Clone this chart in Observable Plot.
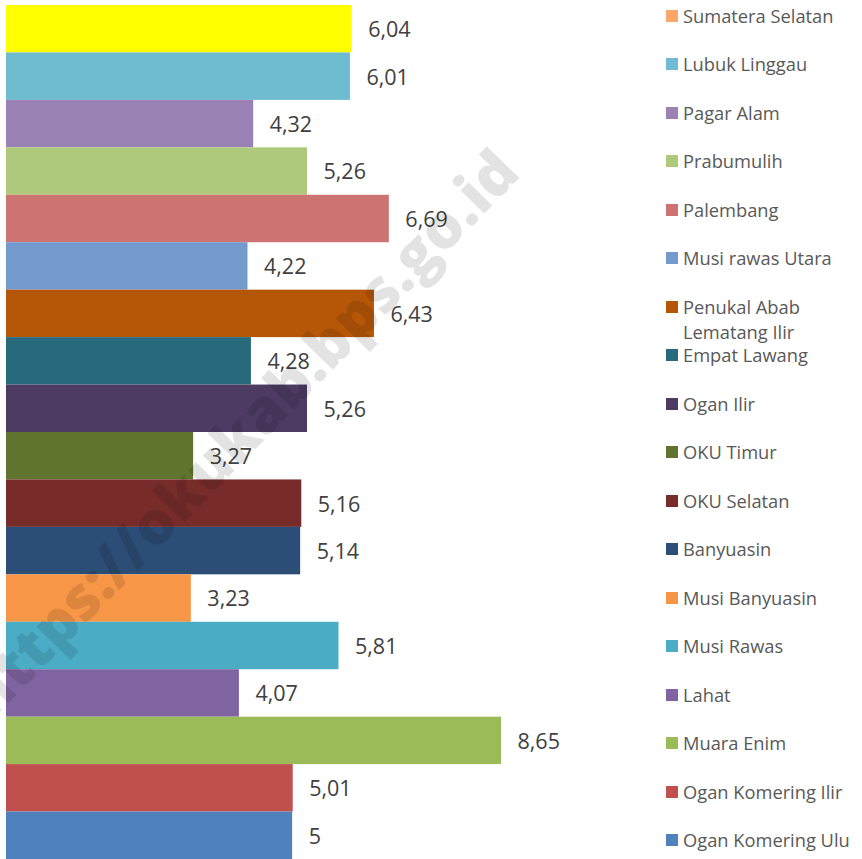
<!DOCTYPE html>
<html>
<head>
<meta charset="utf-8">
<script src="https://cdn.jsdelivr.net/npm/d3@7"></script>
<script src="https://cdn.jsdelivr.net/npm/@observablehq/plot@0.6"></script>
<style>
  html, body { margin: 0; padding: 0; background: #fff; }
  #wrap { position: relative; width: 862px; height: 859px; overflow: hidden; font-family: "Open Sans", sans-serif; }
  #chart { position: absolute; left: 0; top: 0; }
  #legend { position: absolute; left: 666px; top: 0; }
  .li { position: absolute; left: 0; width: 200px; font-size: 18.3px; color: #595959; line-height: 25px; white-space: nowrap; }
  .sw { position: absolute; left: 0; width: 12px; height: 12px; }
  .lt { position: absolute; left: 17px; top: 0; }
  #wm { position: absolute; left: 240px; top: 432px; transform: translate(-50%, -50%) rotate(-45.8deg);
        font-family: "Open Sans", sans-serif; font-weight: 800; font-size: 60px; color: rgba(0,0,0,0.11);
        white-space: nowrap; pointer-events: none; }
</style>
</head>
<body>
<div id="wrap">
  <div id="chart"></div>
  <div id="legend"></div>
  <div id="wm">https://okukab.bps.go.id</div>
</div>
<script>
const categories = [
  "Sumatera Selatan", "Lubuk Linggau", "Pagar Alam", "Prabumulih", "Palembang",
  "Musi rawas Utara", "Penukal Abab Lematang Ilir", "Empat Lawang", "Ogan Ilir",
  "OKU Timur", "OKU Selatan", "Banyuasin", "Musi Banyuasin", "Musi Rawas",
  "Lahat", "Muara Enim", "Ogan Komering Ilir", "Ogan Komering Ulu"
];
const values = [6.04, 6.01, 4.32, 5.26, 6.69, 4.22, 6.43, 4.28, 5.26, 3.27, 5.16, 5.14, 3.23, 5.81, 4.07, 8.65, 5.01, 5];
const barColors = [
  "#FFFF00", "#6FBCD1", "#9A83B4", "#AFC97C", "#CD7371", "#729ACD", "#B65708", "#276A7C", "#4D3B62",
  "#60742F", "#772C2A", "#2C4D75", "#F79646", "#4BACC6", "#8064A2", "#9BBB59", "#C0504D", "#4F81BD"
];
const legendColors = [
  "#F9A86A", "#6FBCD1", "#9A83B4", "#AFC97C", "#CD7371", "#729ACD", "#B65708", "#276A7C", "#4D3B62",
  "#60742F", "#772C2A", "#2C4D75", "#F79646", "#4BACC6", "#8064A2", "#9BBB59", "#C0504D", "#4F81BD"
];
const legendLines = [
  ["Sumatera Selatan"], ["Lubuk Linggau"], ["Pagar Alam"], ["Prabumulih"], ["Palembang"],
  ["Musi rawas Utara"], ["Penukal Abab", "Lematang Ilir"], ["Empat Lawang"], ["Ogan Ilir"],
  ["OKU Timur"], ["OKU Selatan"], ["Banyuasin"], ["Musi Banyuasin"], ["Musi Rawas"],
  ["Lahat"], ["Muara Enim"], ["Ogan Komering Ilir"], ["Ogan Komering Ulu"]
];

const data = categories.map((name, i) => ({ name, value: values[i], color: barColors[i] }));
const fmt = v => String(v).replace(".", ",");

const plot = Plot.plot({
  width: 862,
  height: 859,
  marginLeft: 6,
  marginRight: 361,
  marginTop: 5,
  marginBottom: 0,
  x: { domain: [0, 8.65], axis: null },
  y: { domain: categories, axis: null, padding: 0, round: false },
  style: { fontFamily: "'Open Sans', sans-serif", background: "transparent" },
  marks: [
    Plot.barX(data, { x: "value", y: "name", fill: "color", inset: 0 }),
    Plot.text(data, { x: "value", y: "name", text: d => fmt(d.value), textAnchor: "start", dx: 16, dy: 1,
      fontSize: 21.5, fill: "#404040" })
  ]
});
document.getElementById("chart").appendChild(plot);

const legend = document.getElementById("legend");
categories.forEach((c, i) => {
  const cy = 15 + 48.5 * i;
  const item = document.createElement("div");
  item.className = "li";
  item.style.top = (cy - 12.5) + "px";
  const sw = document.createElement("div");
  sw.className = "sw";
  sw.style.top = "7px";
  sw.style.background = legendColors[i];
  const t = document.createElement("div");
  t.className = "lt";
  t.innerHTML = legendLines[i].join("<br>");
  item.appendChild(sw);
  item.appendChild(t);
  legend.appendChild(item);
});
</script>
</body>
</html>
